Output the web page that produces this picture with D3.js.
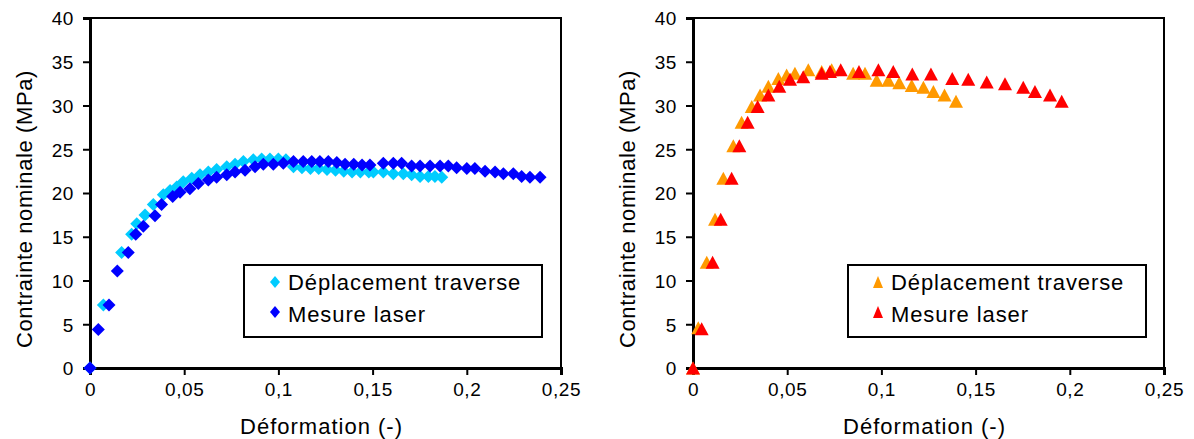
<!DOCTYPE html>
<html><head><meta charset="utf-8">
<script src="https://cdn.jsdelivr.net/npm/d3@7"></script>
<style>
html,body{margin:0;padding:0;background:#fff;}
svg text{font-family:"Liberation Sans",Arial,sans-serif;fill:#000;}
</style></head>
<body><svg id="c" width="1194" height="439"></svg>
<script>
// ---- data ----
const xTickValues = [0, 0.05, 0.1, 0.15, 0.2, 0.25];
const xTickLabels = ["0", "0,05", "0,1", "0,15", "0,2", "0,25"];
const yTickValues = [0, 5, 10, 15, 20, 25, 30, 35, 40];
const yTickLabels = ["0", "5", "10", "15", "20", "25", "30", "35", "40"];
const xTitle = "Déformation (-)";
const yTitle = "Contrainte nominale  (MPa)";
const seriesNames = ["Déplacement traverse", "Mesure laser"];

// left chart
const leftTraverseX = [0, 0.0071, 0.0168, 0.0221, 0.0248, 0.0292, 0.0336, 0.0389, 0.0425, 0.046, 0.0495, 0.054, 0.0584, 0.0628, 0.0672, 0.0726, 0.077, 0.0814, 0.0867, 0.0911, 0.0955, 0.1, 0.104, 0.108, 0.1125, 0.117, 0.1214, 0.1258, 0.1303, 0.1347, 0.1391, 0.1435, 0.148, 0.1504, 0.1557, 0.161, 0.1663, 0.1707, 0.1752, 0.1796, 0.1831, 0.1867];
const leftTraverseY = [0, 7.2, 13.2, 15.3, 16.5, 17.5, 18.7, 19.8, 20.3, 20.7, 21.3, 21.7, 22.1, 22.4, 22.7, 23.0, 23.3, 23.6, 23.8, 23.9, 23.9, 23.9, 23.8, 23.0, 22.9, 22.8, 22.8, 22.7, 22.6, 22.5, 22.4, 22.4, 22.4, 22.4, 22.4, 22.2, 22.2, 22.1, 21.9, 21.9, 21.9, 21.8];
const leftLaserX = [0, 0.0044, 0.0101, 0.0145, 0.0203, 0.0243, 0.0283, 0.0345, 0.038, 0.0439, 0.0478, 0.053, 0.0575, 0.0628, 0.0672, 0.0726, 0.077, 0.0823, 0.0876, 0.092, 0.0973, 0.1026, 0.108, 0.1132, 0.1177, 0.122, 0.1265, 0.131, 0.1354, 0.14, 0.1444, 0.1486, 0.1557, 0.161, 0.1654, 0.1707, 0.1752, 0.1805, 0.1858, 0.1902, 0.1946, 0.2, 0.2043, 0.2097, 0.215, 0.2194, 0.2247, 0.2291, 0.2335, 0.2389];
const leftLaserY = [0, 4.4, 7.2, 11.1, 13.2, 15.3, 16.2, 17.4, 18.7, 19.6, 20.1, 20.5, 21.1, 21.5, 21.8, 22.1, 22.4, 22.6, 23.0, 23.3, 23.3, 23.4, 23.6, 23.6, 23.6, 23.6, 23.6, 23.5, 23.3, 23.3, 23.2, 23.2, 23.4, 23.4, 23.4, 23.1, 23.1, 23.1, 23.1, 23.1, 22.9, 22.8, 22.8, 22.5, 22.4, 22.2, 22.2, 21.9, 21.8, 21.8];

// right chart
const rightTraverseX = [0, 0.0028, 0.0073, 0.0117, 0.0161, 0.0214, 0.0258, 0.0312, 0.0356, 0.04, 0.0453, 0.0497, 0.0541, 0.0612, 0.0683, 0.0736, 0.085, 0.0913, 0.0975, 0.1037, 0.1095, 0.1161, 0.1223, 0.1276, 0.1335, 0.1396];
const rightTraverseY = [0, 4.6, 12.1, 17.0, 21.7, 25.4, 28.1, 29.9, 31.2, 32.2, 33.1, 33.5, 33.7, 34.1, 33.9, 34.1, 33.7, 33.7, 32.9, 32.9, 32.6, 32.3, 32.1, 31.6, 31.2, 30.5];
const rightLaserX = [0, 0.0046, 0.0104, 0.0147, 0.0205, 0.0246, 0.029, 0.0343, 0.04, 0.0458, 0.0515, 0.0585, 0.0683, 0.0727, 0.0784, 0.0881, 0.0984, 0.1063, 0.1164, 0.1263, 0.1376, 0.1461, 0.1559, 0.1656, 0.1753, 0.1815, 0.1895, 0.1957];
const rightLaserY = [0, 4.5, 12.1, 17.0, 21.7, 25.4, 28.1, 29.9, 31.2, 32.2, 33.0, 33.3, 33.7, 33.9, 34.1, 33.9, 34.1, 33.9, 33.6, 33.6, 33.1, 33.0, 32.7, 32.5, 32.1, 31.6, 31.2, 30.5];

const colors = {cyan: "#00CCFF", blue: "#0000FF", orange: "#FF9900", red: "#FF0000"};

// ---- drawing ----
const svg = d3.select("#c");
const plotTop = 18, plotBottom = 368, plotW = 471;

function diamond(w, h) { return `M0,${-h/2}L${w/2},0L0,${h/2}L${-w/2},0Z`; }
function triangle(w, h) { return `M0,${-h/2}L${w/2},${h/2}L${-w/2},${h/2}Z`; }

function drawChart(left, s1x, s1y, s2x, s2y, c1, c2, markerFn, legendX) {
  const x = d3.scaleLinear().domain([0, 0.25]).range([left, left + plotW]);
  const y = d3.scaleLinear().domain([0, 40]).range([plotBottom, plotTop]);
  const g = svg.append("g");

  // plot box (top & right)
  g.append("path").attr("d", `M${left},${plotTop}H${left+plotW}V${plotBottom}`)
    .attr("fill", "none").attr("stroke", "#000").attr("stroke-width", 2);

  // x axis
  const xa = g.append("g").attr("transform", `translate(0,${plotBottom})`)
    .call(d3.axisBottom(x).tickValues(xTickValues).tickFormat((d, i) => xTickLabels[i]).tickSizeOuter(0).tickSize(7).tickPadding(8));
  // y axis
  const ya = g.append("g").attr("transform", `translate(${left},0)`)
    .call(d3.axisLeft(y).tickValues(yTickValues).tickFormat((d, i) => yTickLabels[i]).tickSizeOuter(0).tickSize(7).tickPadding(9));
  [xa, ya].forEach(a => {
    a.select(".domain").attr("stroke", "#000").attr("stroke-width", 3);
    a.selectAll(".tick line").attr("stroke", "#000").attr("stroke-width", 2);
    a.selectAll(".tick text").attr("font-size", 19).attr("font-family", "Liberation Sans, Arial, sans-serif").style("letter-spacing", "0.6px");
  });
  ya.selectAll(".tick text").attr("dy", "0.36em");

  // titles
  g.append("text").attr("x", left + plotW / 2 - 4).attr("y", 434).attr("text-anchor", "middle")
    .attr("font-size", 22).style("letter-spacing", "1px").text(xTitle);
  g.append("text").attr("transform", `translate(${left - 58},${209}) rotate(-90)`).attr("text-anchor", "middle")
    .attr("font-size", 22).style("letter-spacing", "0.6px").text(yTitle);

  // markers
  const d1 = s1x.map((v, i) => [v, s1y[i]]);
  const d2 = s2x.map((v, i) => [v, s2y[i]]);
  const m = markerFn === "diamond" ? diamond(13, 13) : triangle(14, 13);
  g.append("g").selectAll("path").data(d1).join("path")
    .attr("d", m).attr("transform", d => `translate(${x(d[0])},${y(d[1])})`).attr("fill", c1);
  g.append("g").selectAll("path").data(d2).join("path")
    .attr("d", m).attr("transform", d => `translate(${x(d[0])},${y(d[1])})`).attr("fill", c2);

  // legend
  const lg = g.append("g");
  lg.append("rect").attr("x", legendX).attr("y", 265).attr("width", 298).attr("height", 72)
    .attr("fill", "#fff").attr("stroke", "#000").attr("stroke-width", 2);
  const lm = markerFn === "diamond" ? diamond(10, 12) : triangle(10, 12);
  const mx = legendX + (markerFn === "diamond" ? 31 : 30);
  [[c1, 282, 290, seriesNames[0]], [c2, 312, 322, seriesNames[1]]].forEach(([c, my, by, t]) => {
    lg.append("path").attr("d", lm).attr("transform", `translate(${mx},${my})`).attr("fill", c);
    lg.append("text").attr("x", mx + 13).attr("y", by).attr("font-size", 22)
      .style("letter-spacing", "0.9px").text(t);
  });
}

drawChart(90, leftTraverseX, leftTraverseY, leftLaserX, leftLaserY, colors.cyan, colors.blue, "diamond", 244);
drawChart(693, rightTraverseX, rightTraverseY, rightLaserX, rightLaserY, colors.orange, colors.red, "triangle", 848);
</script></body></html>
